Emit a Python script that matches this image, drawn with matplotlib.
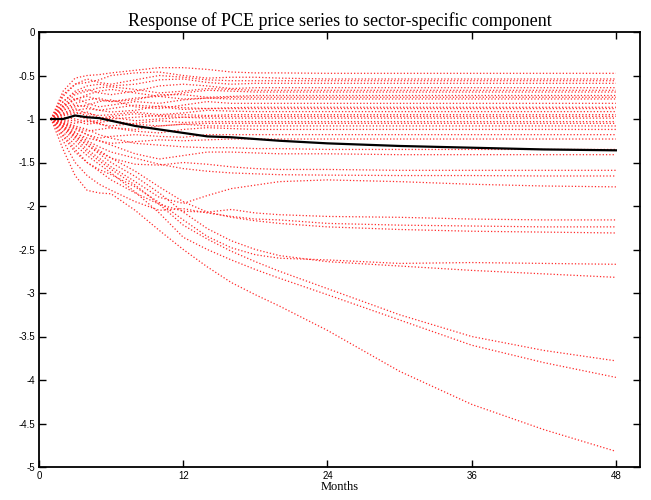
import matplotlib
matplotlib.use("Agg")
import matplotlib.pyplot as plt
from matplotlib.ticker import FuncFormatter

# impulse responses, months after the shock
months = [1, 2, 3, 4, 5, 6, 8, 10, 12, 14, 16, 18, 20, 24, 30, 36, 42, 48]

# mean response (black line)
mean_irf = [-1, -1.0, -0.96, -0.98, -0.99, -1.02, -1.08, -1.12, -1.16, -1.2, -1.21, -1.23,
            -1.25, -1.28, -1.31, -1.33, -1.35, -1.36]

# sectors that end above -1.3
u01 = [-1, -0.68, -0.53, -0.5, -0.49, -0.47, -0.44, -0.41, -0.41, -0.43, -0.46, -0.47, -0.47, -0.475, -0.475, -0.475, -0.475, -0.475]
u02 = [-1, -0.72, -0.6, -0.58, -0.55, -0.5, -0.47, -0.46, -0.5, -0.53, -0.52, -0.52, -0.53, -0.54, -0.54, -0.54, -0.54, -0.54]
u03 = [-1, -0.74, -0.6, -0.54, -0.58, -0.6, -0.55, -0.5, -0.52, -0.55, -0.56, -0.56, -0.56, -0.56, -0.56, -0.56, -0.56, -0.56]
u04 = [-1, -0.8, -0.68, -0.62, -0.6, -0.62, -0.6, -0.55, -0.54, -0.58, -0.6, -0.59, -0.59, -0.59, -0.59, -0.59, -0.59, -0.59]
u05 = [-1, -0.8, -0.7, -0.66, -0.7, -0.72, -0.68, -0.62, -0.6, -0.62, -0.65, -0.64, -0.64, -0.64, -0.64, -0.64, -0.64, -0.64]
u06 = [-1, -0.84, -0.72, -0.68, -0.64, -0.63, -0.66, -0.7, -0.68, -0.65, -0.66, -0.67, -0.67, -0.67, -0.67, -0.67, -0.67, -0.67]
u07 = [-1, -0.86, -0.78, -0.72, -0.68, -0.66, -0.7, -0.74, -0.7, -0.67, -0.68, -0.69, -0.69, -0.69, -0.69, -0.69, -0.69, -0.69]
u08 = [-1, -0.88, -0.82, -0.78, -0.76, -0.8, -0.78, -0.72, -0.72, -0.75, -0.74, -0.73, -0.73, -0.73, -0.73, -0.73, -0.73, -0.73]
u09 = [-1, -0.85, -0.77, -0.74, -0.78, -0.8, -0.76, -0.74, -0.77, -0.76, -0.75, -0.75, -0.75, -0.75, -0.75, -0.75, -0.75, -0.75]
u10 = [-1, -0.86, -0.76, -0.82, -0.86, -0.84, -0.8, -0.82, -0.78, -0.76, -0.77, -0.77, -0.77, -0.77, -0.77, -0.77, -0.77, -0.77]
u11 = [-1, -0.9, -0.86, -0.84, -0.8, -0.78, -0.86, -0.88, -0.84, -0.8, -0.82, -0.82, -0.82, -0.82, -0.82, -0.82, -0.82, -0.82]
u12 = [-1, -0.94, -0.9, -0.88, -0.9, -0.92, -0.9, -0.85, -0.87, -0.88, -0.87, -0.865, -0.865, -0.865, -0.865, -0.865, -0.865, -0.865]
u13 = [-1, -0.9, -0.84, -0.86, -0.9, -0.88, -0.84, -0.86, -0.89, -0.88, -0.88, -0.88, -0.88, -0.88, -0.88, -0.88, -0.88, -0.88]
u14 = [-1, -0.93, -0.88, -0.94, -0.96, -0.95, -0.92, -0.95, -0.93, -0.9, -0.91, -0.915, -0.915, -0.915, -0.915, -0.915, -0.915, -0.915]
u15 = [-1, -0.96, -0.94, -0.92, -0.98, -1.0, -0.98, -0.96, -0.95, -0.96, -0.95, -0.95, -0.95, -0.95, -0.95, -0.95, -0.95, -0.95]
u16 = [-1, -0.95, -0.92, -0.96, -0.99, -0.97, -0.94, -0.97, -0.98, -0.97, -0.97, -0.97, -0.97, -0.97, -0.97, -0.97, -0.97, -0.97]
u17 = [-1, -0.98, -1.0, -1.03, -1.02, -0.98, -1.02, -1.0, -0.98, -0.99, -0.99, -0.99, -0.99, -0.99, -0.99, -0.99, -0.99, -0.99]
u18 = [-1, -1.02, -1.05, -1.02, -1.06, -1.08, -1.05, -1.02, -1.04, -1.03, -1.03, -1.03, -1.03, -1.03, -1.03, -1.03, -1.03, -1.03]
u19 = [-1, -1.01, -1.02, -1.06, -1.04, -1.02, -1.06, -1.08, -1.06, -1.05, -1.05, -1.05, -1.05, -1.05, -1.05, -1.05, -1.05, -1.05]
u20 = [-1, -1.0, -0.96, -1.0, -1.05, -1.1, -1.12, -1.08, -1.06, -1.08, -1.08, -1.08, -1.08, -1.08, -1.08, -1.08, -1.08, -1.08]
u21 = [-1, -1.04, -1.1, -1.14, -1.12, -1.1, -1.14, -1.16, -1.12, -1.1, -1.11, -1.12, -1.12, -1.12, -1.12, -1.12, -1.12, -1.12]
u22 = [-1, -1.06, -1.12, -1.18, -1.22, -1.2, -1.18, -1.2, -1.21, -1.18, -1.18, -1.18, -1.18, -1.18, -1.18, -1.18, -1.18, -1.18]
u23 = [-1, -1.08, -1.16, -1.22, -1.25, -1.28, -1.26, -1.24, -1.25, -1.24, -1.23, -1.23, -1.23, -1.23, -1.23, -1.23, -1.23, -1.23]

# sectors that end below -1.3
l01 = [-1, -1.03, -1.08, -1.12, -1.18, -1.22, -1.28, -1.3, -1.32, -1.33, -1.33, -1.34, -1.34, -1.35, -1.35, -1.35, -1.35, -1.35]
l02 = [-1, -1.05, -1.1, -1.18, -1.25, -1.3, -1.4, -1.46, -1.42, -1.38, -1.38, -1.39, -1.4, -1.4, -1.41, -1.41, -1.41, -1.41]
l03 = [-1, -1.08, -1.2, -1.3, -1.38, -1.45, -1.52, -1.53, -1.5, -1.52, -1.55, -1.57, -1.58, -1.58, -1.59, -1.59, -1.59, -1.59]
l04 = [-1, -1.05, -1.15, -1.25, -1.32, -1.38, -1.45, -1.52, -1.57, -1.6, -1.62, -1.63, -1.64, -1.645, -1.65, -1.65, -1.655, -1.655]
l05 = [-1, -1.1, -1.22, -1.35, -1.45, -1.55, -1.72, -1.9, -1.97, -1.88, -1.8, -1.76, -1.72, -1.7, -1.72, -1.75, -1.77, -1.78]
l06 = [-1, -1.18, -1.35, -1.5, -1.6, -1.7, -1.85, -1.98, -2.06, -2.07, -2.04, -2.08, -2.1, -2.12, -2.13, -2.15, -2.16, -2.16]
l07 = [-1, -1.25, -1.5, -1.65, -1.75, -1.82, -1.95, -2.05, -2.03, -2.08, -2.12, -2.15, -2.16, -2.2, -2.22, -2.23, -2.24, -2.24]
l08 = [-1, -1.08, -1.18, -1.27, -1.36, -1.45, -1.6, -1.78, -1.95, -2.07, -2.13, -2.17, -2.2, -2.24, -2.27, -2.29, -2.3, -2.31]
l09 = [-1, -1.2, -1.38, -1.5, -1.58, -1.64, -1.78, -1.96, -2.16, -2.35, -2.48, -2.56, -2.6, -2.62, -2.66, -2.65, -2.66, -2.67]
l10 = [-1, -1.1, -1.2, -1.3, -1.4, -1.5, -1.66, -1.85, -2.07, -2.26, -2.4, -2.5, -2.57, -2.64, -2.69, -2.74, -2.78, -2.82]
l11 = [-1, -1.12, -1.25, -1.38, -1.48, -1.58, -1.76, -1.98, -2.22, -2.38, -2.52, -2.64, -2.75, -2.95, -3.25, -3.5, -3.66, -3.78]
l12 = [-1, -1.15, -1.3, -1.42, -1.52, -1.62, -1.84, -2.08, -2.36, -2.5, -2.62, -2.73, -2.83, -3.02, -3.31, -3.6, -3.8, -3.97]
l13 = [-1, -1.35, -1.65, -1.82, -1.85, -1.86, -2.05, -2.28, -2.5, -2.7, -2.88, -3.02, -3.15, -3.43, -3.9, -4.28, -4.57, -4.82]

red_series = [u01, u02, u03, u04, u05, u06, u07, u08, u09, u10, u11, u12,
              u13, u14, u15, u16, u17, u18, u19, u20, u21, u22, u23,
              l01, l02, l03, l04, l05, l06, l07, l08, l09, l10, l11, l12, l13]

plt.rcParams['axes.unicode_minus'] = False

fig = plt.figure(figsize=(6.51, 5.0), dpi=100)
ax = fig.add_axes([0.060, 0.066, 0.923, 0.870])

for s in red_series:
    ax.plot(months, s, color='#ff2a2a', linestyle=':', linewidth=0.9)
ax.plot(months, mean_irf, color='black', linewidth=1.6)

ax.set_xlim(0, 50)
ax.set_ylim(-5, 0)
ax.set_xticks([0, 12, 24, 36, 48])
ax.set_yticks([0, -0.5, -1, -1.5, -2, -2.5, -3, -3.5, -4, -4.5, -5])
ax.yaxis.set_major_formatter(FuncFormatter(lambda v, p: '%g' % v))
ax.tick_params(direction='in', top=True, right=True, length=5, width=1,
               labelsize=7, pad=3)
for lab in ax.get_xticklabels() + ax.get_yticklabels():
    lab.set_family('Liberation Sans')
for sp in ax.spines.values():
    sp.set_linewidth(1.3)

ax.set_title('Response of PCE price series to sector-specific component',
             family='Liberation Serif', fontsize=13, pad=4)
ax.set_xlabel('Months', family='Liberation Serif', fontsize=9, labelpad=0)

fig.savefig('out.png', dpi=100)
